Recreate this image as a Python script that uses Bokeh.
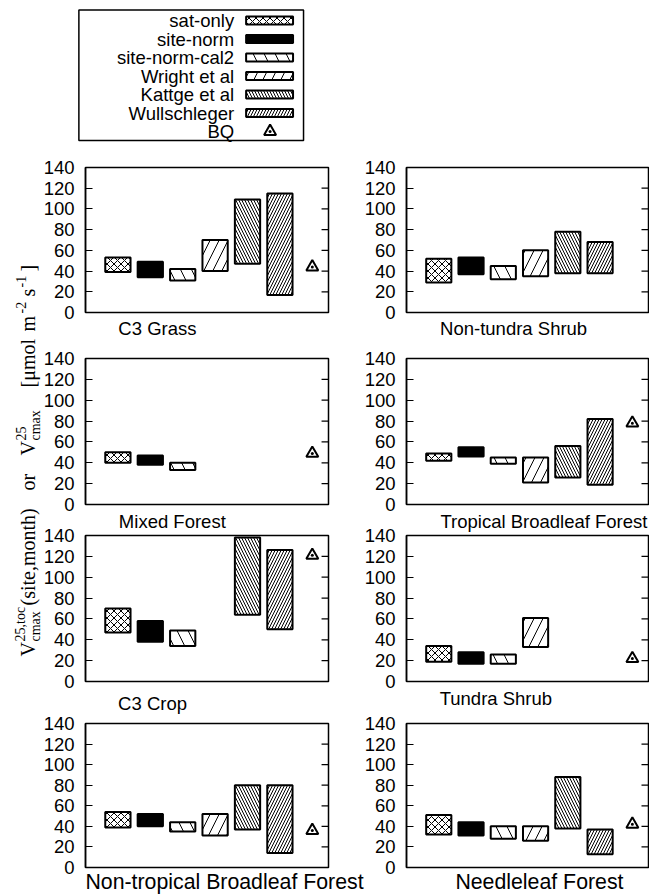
import math

from bokeh.core.properties import value
from bokeh.embed import file_html
from bokeh.models import (ColumnDataSource, CustomJSTickFormatter, FixedTicker,
                          GridBox, Range1d)
from bokeh.plotting import figure
from bokeh.resources import INLINE

# ---------------------------------------------------------------- data
pft_names = [
    "C3 Grass", "Non-tundra Shrub",
    "Mixed Forest", "Tropical Broadleaf Forest",
    "C3 Crop", "Tundra Shrub",
    "Non-tropical Broadleaf Forest", "Needleleaf Forest",
]
series_names = [
    "sat-only", "site-norm", "site-norm-cal2",
    "Wright et al", "Kattge et al", "Wullschleger",
]
bq_name = "BQ"

# min / max of Vcmax25 per PFT (umol m-2 s-1); None = not available
sat_only_lo = [39, 29, 40, 42, 47, 19, 39, 32]
sat_only_hi = [53, 52, 50, 49, 70, 34, 54, 51]
site_norm_lo = [34, 37, 38, 46, 38, 17, 40, 31]
site_norm_hi = [49, 53, 47, 55, 58, 28, 52, 44]
site_norm_cal2_lo = [31, 32, 33, 39, 34, 17, 35, 28]
site_norm_cal2_hi = [42, 45, 40, 45, 49, 26, 44, 40]
wright_lo = [40, 35, None, 21, None, 33, 31, 26]
wright_hi = [70, 60, None, 45, None, 61, 52, 40]
kattge_lo = [47, 38, None, 26, 64, None, 37, 38]
kattge_hi = [109, 78, None, 56, 138, None, 80, 88]
wullschleger_lo = [17, 38, None, 19, 50, None, 14, 13]
wullschleger_hi = [115, 68, None, 82, 126, None, 80, 37]
bq_values = [44, None, 49, 78, 121, 22, 36, 42]

y_ticks = [0, 20, 40, 60, 80, 100, 120, 140]

series_ranges = [
    (sat_only_lo, sat_only_hi),
    (site_norm_lo, site_norm_hi),
    (site_norm_cal2_lo, site_norm_cal2_hi),
    (wright_lo, wright_hi),
    (kattge_lo, kattge_hi),
    (wullschleger_lo, wullschleger_hi),
]

# ---------------------------------------------------------------- styles
SANS = "Liberation Sans"
SERIF = "Liberation Serif"
BAR_LINE = dict(line_color="black", line_width=2, hatch_color="black", hatch_weight=1)
BAR_STYLES = [
    dict(fill_color="white", hatch_pattern="x", hatch_scale=7),
    dict(fill_color="black"),
    dict(fill_color="white", hatch_pattern="\\", hatch_scale=22),
    dict(fill_color="white", hatch_pattern="/", hatch_scale=18),
    dict(fill_color="white", hatch_pattern="\\", hatch_scale=6),
    dict(fill_color="white", hatch_pattern="/", hatch_scale=6),
]
BAR_WIDTH = 0.78
BQ_X = len(series_names) + 1
X_MAX = 7.5
TICK_LEN = 7

PAGE_W, PAGE_H = 649, 896
LEG_H = 152

# plot frames on the page: left / width per column, top / height per row
FRAME_COLS = [(83, 245), (406, 242)]
FRAME_ROWS = [(167, 145), (358, 146), (535, 147), (723, 146)]
# figure borders around each frame: (left, right) per column, (top, bottom) per row
BORDER_COLS = [(43, 40), (73, 1)]
BORDER_ROWS = [(12, 30), (12, 30), (12, 34), (12, 27)]

# category name under each frame: centre (x units), gap below frame (px), size
NAME_POS = [
    (2.22, 5, "18.5px"), (3.32, 5, "18.5px"),
    (2.68, 6, "18.5px"), (4.26, 6, "18.5px"),
    (2.07, 11, "18.5px"), (2.77, 6, "18.5px"),
    (4.29, 2, "21.3px"), (4.12, 2, "21.3px"),
]


def new_canvas(width, height, **kw):
    f = figure(width=width, height=height, output_backend="svg",
               toolbar_location=None, **kw)
    f.grid.visible = False
    f.background_fill_alpha = 0
    f.border_fill_alpha = 0
    return f


def make_panel(k):
    r, c = divmod(k, 2)
    fl, fw = FRAME_COLS[c]
    ft, fh = FRAME_ROWS[r]
    b_left, b_right = BORDER_COLS[c]
    b_top, b_bottom = BORDER_ROWS[r]
    width, height = b_left + fw + b_right, b_top + fh + b_bottom

    p = new_canvas(
        width, height,
        x_range=Range1d(0, X_MAX), y_range=Range1d(0, 140),
        min_border_left=b_left, min_border_right=b_right,
        min_border_top=b_top, min_border_bottom=b_bottom,
    )
    p.outline_line_color = "black"
    p.outline_line_width = 1.5

    ya = p.yaxis[0]
    ya.ticker = FixedTicker(ticks=y_ticks)
    ya.major_tick_in = TICK_LEN
    ya.major_tick_out = 0
    ya.minor_tick_in = 0
    ya.minor_tick_out = 0
    ya.axis_line_color = "black"
    ya.axis_line_width = 1.5
    ya.major_tick_line_color = "black"
    ya.major_tick_line_width = 1.2
    ya.major_label_text_font = SANS
    ya.major_label_text_font_size = "18.5px"
    ya.major_label_text_color = "black"
    ya.major_label_standoff = 11

    # the category name is the single tick label of the bottom axis
    cx, gap, size = NAME_POS[k]
    xa = p.xaxis[0]
    xa.ticker = FixedTicker(ticks=[cx])
    xa.formatter = CustomJSTickFormatter(args=dict(name=pft_names[k]), code="return name;")
    xa.axis_line_color = None
    xa.major_tick_in = 0
    xa.major_tick_out = 0
    xa.minor_tick_in = 0
    xa.minor_tick_out = 0
    xa.major_label_standoff = gap
    xa.major_label_text_font = SANS
    xa.major_label_text_font_size = size
    xa.major_label_text_color = "black"

    # mirrored inward ticks along the right edge of the frame
    dx = TICK_LEN * X_MAX / fw
    p.segment(x0=[X_MAX] * len(y_ticks), x1=[X_MAX - dx] * len(y_ticks),
              y0=y_ticks, y1=y_ticks, line_color="black", line_width=1.2)

    for j, (lo, hi) in enumerate(series_ranges):
        if lo[k] is None or hi[k] is None:
            continue
        src = ColumnDataSource(dict(x=[j + 1], bottom=[lo[k]], top=[hi[k]]))
        p.vbar(x="x", bottom="bottom", top="top", width=BAR_WIDTH, source=src,
               **BAR_LINE, **BAR_STYLES[j])

    if bq_values[k] is not None:
        p.scatter(x=[BQ_X], y=[bq_values[k]], marker="triangle_dot", size=12,
                  fill_alpha=0, line_color="black", line_width=2)
    return p, (fl - b_left, ft - b_top, width, height)


# ---------------------------------------------------------------- legend
leg = new_canvas(PAGE_W, LEG_H, x_range=Range1d(0, PAGE_W), y_range=Range1d(0, LEG_H),
                 min_border=0, x_axis_type=None, y_axis_type=None)
leg.outline_line_color = None
leg.quad(left=[78.5], right=[303.5], top=[LEG_H - 9.5], bottom=[LEG_H - 140],
         fill_alpha=0, line_color="black", line_width=1.5)

entry_names = series_names + [bq_name]
entry_y = [LEG_H - (20 + 18.5 * i) for i in range(len(entry_names))]
leg.text(x=[234] * len(entry_names), y=entry_y, text=entry_names,
         text_font=value(SANS), text_font_size="18.5px", text_color="black",
         text_align="right", text_baseline="middle")
for j, style in enumerate(BAR_STYLES):
    leg.quad(left=[246], right=[293], top=[entry_y[j] + 4], bottom=[entry_y[j] - 4],
             **BAR_LINE, **style)
leg.scatter(x=[270], y=[entry_y[-1]], marker="triangle_dot", size=12,
            fill_alpha=0, line_color="black", line_width=2)

# ---------------------------------------------------------------- y label
YL_BOX = (0, 245, 44, 425)          # left, top, width, height on the page
yl_w, yl_h = YL_BOX[2], YL_BOX[3]
yl_bottom = YL_BOX[1] + yl_h
ylab = new_canvas(yl_w, yl_h, x_range=Range1d(0, yl_w), y_range=Range1d(0, yl_h),
                  min_border=0, x_axis_type=None, y_axis_type=None)
ylab.outline_line_color = None
# pieces of  V^{25,toc}_{cmax}(site,month) or V^{25}_{cmax} [umol m^-2 s^-1],
# each placed by its start along the page and the centre line of its row
MAIN_X, SUP_X, SUB_X = 27, 20, 35
pieces = [
    ("V", "20px", MAIN_X, 656),
    ("25,toc", "14px", SUP_X, 641),
    ("cmax", "14px", SUB_X, 641),
    ("(site,month)", "20px", MAIN_X, 605),
    ("or", "20px", MAIN_X, 490),
    ("V", "20px", MAIN_X, 455),
    ("25", "14px", SUP_X, 440),
    ("cmax", "14px", SUB_X, 440),
    ("[\u03bcmol", "20px", MAIN_X, 387),
    ("m", "20px", MAIN_X, 331),
    ("-2", "14px", SUP_X, 313),
    ("s", "20px", MAIN_X, 296),
    ("-1", "14px", SUP_X, 287),
    ("]", "20px", MAIN_X, 271),
]
ysrc = ColumnDataSource(dict(
    x=[pc[2] for pc in pieces],
    y=[yl_bottom - pc[3] for pc in pieces],
    text=[pc[0] for pc in pieces],
    size=[pc[1] for pc in pieces],
))
ylab.text(x="x", y="y", text="text", text_font_size="size", source=ysrc,
          angle=math.pi / 2, text_font=value(SERIF), text_color="black",
          text_align="left", text_baseline="middle")

# ---------------------------------------------------------------- layout
# every figure gets a fixed box on the page; boxes may overlap (the
# figures are transparent), which lets labels run past their own frame
placed = [(leg, (0, 0, PAGE_W, LEG_H)), (ylab, YL_BOX)]
placed += [make_panel(k) for k in range(len(pft_names))]

xs = sorted({0, PAGE_W} | {b[0] for _, b in placed} | {b[0] + b[2] for _, b in placed})
ys = sorted({0, PAGE_H} | {b[1] for _, b in placed} | {b[1] + b[3] for _, b in placed})
cols = [f"{b - a}px" for a, b in zip(xs, xs[1:])]
rows = [f"{b - a}px" for a, b in zip(ys, ys[1:])]

children = []
for fig, (x0, y0, w, h) in placed:
    ci, ri = xs.index(x0), ys.index(y0)
    cj, rj = xs.index(x0 + w), ys.index(y0 + h)
    children.append((fig, ri, ci, rj - ri, cj - ci))

page = GridBox(children=children, rows=rows, cols=cols, spacing=0)

open("out.html", "w").write(file_html(page, INLINE))
